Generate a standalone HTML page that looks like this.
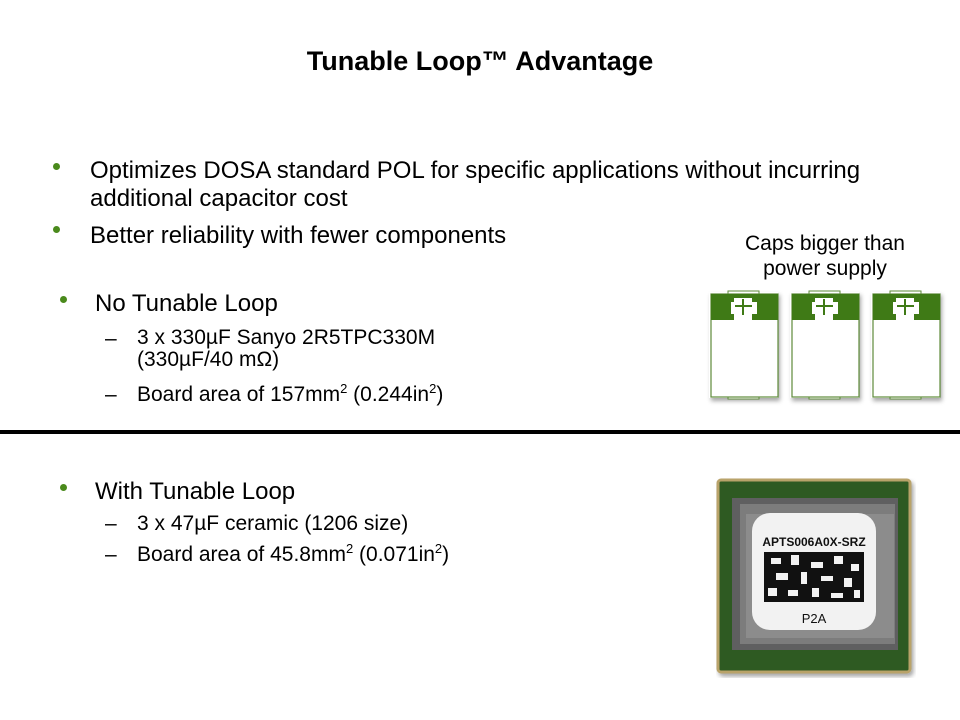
<!DOCTYPE html>
<html><head><style>
body{margin:0;width:960px;height:720px;background:#fff;position:relative;font-family:"Liberation Sans",Arial,sans-serif;color:#000;overflow:hidden}
.a{position:absolute;white-space:nowrap}
.d{position:absolute;width:7px;height:7px;border-radius:50%;background:#4a8a1c}
.t24{font-size:24px}
.t21{font-size:21px}
sup{font-size:13px;vertical-align:8px;line-height:0}
</style></head><body>
<div class="a" style="left:0;width:960px;top:46px;text-align:center;font-weight:bold;font-size:27px">Tunable Loop™ Advantage</div>

<div class="d" style="left:53px;top:163px"></div>
<div class="a t24" style="left:90px;top:157px;line-height:28px">Optimizes DOSA standard POL for specific applications without incurring<br>additional capacitor cost</div>
<div class="d" style="left:53px;top:226px"></div>
<div class="a t24" style="left:90px;top:222px">Better reliability with fewer components</div>

<div class="a t21" style="left:700px;top:231px;width:250px;text-align:center;line-height:25px">Caps bigger than<br>power supply</div>

<div class="d" style="left:60px;top:296px"></div>
<div class="a t24" style="left:95px;top:290px">No Tunable Loop</div>
<div class="a t21" style="left:105px;top:327px">–</div>
<div class="a t21" style="left:137px;top:327px;line-height:22px">3 x 330µF Sanyo 2R5TPC330M<br>(330µF/40 mΩ)</div>
<div class="a t21" style="left:105px;top:383px">–</div>
<div class="a t21" style="left:137px;top:383px">Board area of 157mm<sup>2</sup> (0.244in<sup>2</sup>)</div>

<div class="a" style="left:0;top:430px;width:960px;height:4px;background:#000"></div>

<div class="d" style="left:60px;top:484px"></div>
<div class="a t24" style="left:95px;top:478px">With Tunable Loop</div>
<div class="a t21" style="left:105px;top:512px">–</div>
<div class="a t21" style="left:137px;top:512px">3 x 47µF ceramic (1206 size)</div>
<div class="a t21" style="left:105px;top:543px">–</div>
<div class="a t21" style="left:137px;top:543px">Board area of 45.8mm<sup>2</sup> (0.071in<sup>2</sup>)</div>

<svg class="a" style="left:700px;top:285px" width="260" height="130">
<defs><filter id="s"><feDropShadow dx="2" dy="3" stdDeviation="2" flood-opacity="0.35"/></filter>
<g id="cap">
<rect x="0" y="7" width="69" height="106" fill="#fff" filter="url(#s)"/>
<rect x="19" y="6" width="31" height="4" fill="#fff" stroke="#5d8a3a" stroke-width="1"/>
<rect x="19" y="110" width="31" height="4" fill="#fff" stroke="#5d8a3a" stroke-width="1"/>
<rect x="2" y="9" width="67" height="103" fill="#fff" stroke="#5d8a3a" stroke-width="1.2"/>
<rect x="2" y="9" width="67" height="26" fill="#3f7a16"/>
<path d="M25 13h18v4h5v12h-5v6h-18v-6h-3v-12h3z" fill="#fff"/>
<path d="M34 14v16M26 21h17" stroke="#3f7a16" stroke-width="2"/>
</g></defs>
<use href="#cap" x="9" y="0"/><use href="#cap" x="90" y="0"/><use href="#cap" x="171" y="0"/>
</svg>

<svg class="a" style="left:716px;top:478px" width="200" height="200">
<rect x="2" y="2" width="192" height="192" rx="3" fill="#2e5a22" stroke="#b9a36a" stroke-width="3" filter="url(#s)"/>
<rect x="16" y="20" width="166" height="152" fill="#5f5f60"/>
<rect x="24" y="26" width="155" height="140" fill="#7c7c7c"/>
<rect x="30" y="36" width="148" height="124" fill="#8c8c8c"/>
<rect x="36" y="35" width="124" height="117" rx="18" fill="#f2f2f2"/>
<text x="98" y="68" text-anchor="middle" font-size="12" font-weight="bold" font-family="Liberation Sans" fill="#111">APTS006A0X-SRZ</text>
<rect x="48" y="74" width="100" height="50" fill="#111"/>
<g fill="#f2f2f2">
<rect x="55" y="80" width="10" height="6"/><rect x="75" y="77" width="8" height="10"/><rect x="95" y="84" width="12" height="6"/><rect x="118" y="78" width="9" height="8"/><rect x="135" y="86" width="8" height="7"/>
<rect x="60" y="95" width="12" height="7"/><rect x="85" y="94" width="6" height="12"/><rect x="105" y="98" width="12" height="5"/><rect x="128" y="100" width="8" height="9"/>
<rect x="52" y="110" width="9" height="8"/><rect x="72" y="112" width="10" height="6"/><rect x="96" y="110" width="7" height="9"/><rect x="115" y="115" width="12" height="5"/><rect x="138" y="112" width="6" height="8"/>
</g>
<text x="98" y="145" text-anchor="middle" font-size="13" font-family="Liberation Sans" fill="#111">P2A</text>
</svg>
</body></html>
